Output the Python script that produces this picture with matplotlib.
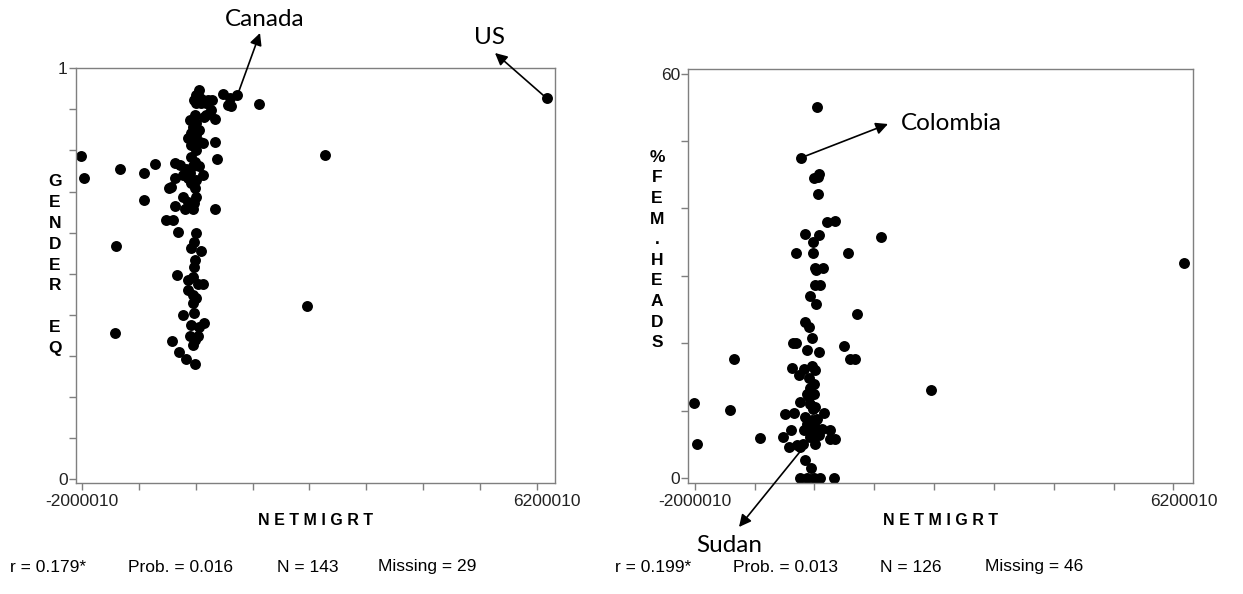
import matplotlib.pyplot as plt
import numpy as np
from matplotlib.transforms import ScaledTranslation

W, H = 1243, 594

# net migration (thousands) vs gender equality index
ge_netmig = [108, 48, 120, 12, 60, 181, 271, 349, 229, 151, 542, 662, 801, 692, 632, 1192,
             331, 241, 193, 391, 30, -60, 60, 0, 108, -30, 60, -90, 12, 120, 181, -30, 391,
             60, -30, 439, 30, -331, -241, -120, 0, 108, -60, -181, -90, 181, 60, -331, -391,
             -433, -30, 30, 60, -181, -90, 12, -151, 0, 403, -331, -494, -361, -271, 60, 12,
             -30, 151, 30, 12, -289, -90, 0, 90, 181, -90, 0, 60, 0, -181, 12, -30, 108, 193,
             -60, 30, 90, -373, 0, -253, -120, 30,
             -2017, -1969, -1324, -1397, -1403, -891, -885, -686, 2389, 2059, 6381]
ge_index = [0.947, 0.935, 0.927, 0.923, 0.915, 0.923, 0.923, 0.923, 0.915, 0.916, 0.937, 0.927,
            0.934, 0.907, 0.911, 0.913, 0.899, 0.886, 0.882, 0.877, 0.886, 0.874, 0.866, 0.858,
            0.850, 0.842, 0.838, 0.830, 0.826, 0.821, 0.817, 0.813, 0.820, 0.801, 0.785, 0.779,
            0.773, 0.770, 0.765, 0.756, 0.761, 0.761, 0.744, 0.740, 0.732, 0.740, 0.728, 0.732,
            0.712, 0.708, 0.720, 0.708, 0.687, 0.687, 0.675, 0.671, 0.657, 0.657, 0.657, 0.665,
            0.631, 0.631, 0.601, 0.598, 0.578, 0.562, 0.554, 0.533, 0.517, 0.497, 0.484, 0.493,
            0.476, 0.476, 0.460, 0.448, 0.440, 0.428, 0.399, 0.403, 0.375, 0.371, 0.379, 0.347,
            0.338, 0.347, 0.336, 0.326, 0.310, 0.291, 0.279,
            0.787, 0.734, 0.755, 0.568, 0.355, 0.744, 0.679, 0.767, 0.790, 0.421, 0.927]

# net migration (thousands) vs % female headed households
fh_netmig = [97, -171, 126, 40, 108, 108, 268, 411, -103, 126, 29, 1198, -257, 29, 622, 68,
             200, 86, 57, 154, -17, 86, 782, -114, -46, 11, -314, -257, -74, 126, 553, 668,
             753, -1330, -331, -217, -131, 11, 68, -46, 40, -29, 51, -74, -188, -17, 68, -445,
             -302, 211, -103, 11, -74, 68, 183, 325, 411, 325, -485, -359, -388, -245, -143, 68,
             -17, 126, -103, 0, -188, -74, 40, 154, 382, -2014, -1404, -1968, -884, 6388, 2052,
             -46, 29, -131, -29, 97, 40, -188]
fh_pct = [55.1, 47.55, 45.1, 44.5, 44.7, 42.2, 38.0, 38.2, 36.2, 36.06, 35.07, 35.8, 33.4, 33.4,
          33.4, 31.1, 31.1, 30.9, 28.7, 28.7, 27.0, 25.8, 24.4, 23.2, 22.4, 20.85, 20.1, 20.1,
          19.0, 18.7, 19.6, 17.7, 17.7, 17.6, 16.35, 15.26, 16.2, 16.6, 16.0, 14.8, 14.0, 13.3,
          12.5, 12.5, 11.3, 11.05, 10.55, 9.56, 9.66, 9.66, 9.07, 8.57, 8.08, 7.58, 7.33, 7.09,
          5.85, 5.85, 6.09, 7.09, 4.6, 4.86, 5.1, 5.1, 6.09, 6.34, 2.63, 1.55, 0, 0, 0, 0, 0,
          11.2, 10.15, 5.1, 5.95, 31.86, 13.0,
          12.0, 10.3, 7.09, 6.8, 8.8, 6.59, 4.6]

x_ticks = np.linspace(-2000010, 6200010, 9)
x_end_labels = ["-2000010", "6200010"]
stats_left = ["r = 0.179*", "Prob. = 0.016", "N = 143", "Missing = 29"]
stats_right = ["r = 0.199*", "Prob. = 0.013", "N = 126", "Missing = 46"]

plt.rcParams["font.family"] = ["Liberation Sans", "DejaVu Sans"]
grey = "#7f7f7f"

fig = plt.figure(figsize=(W / 100, H / 100), dpi=100)


def fx(px):
    return px / W


def fy(py):
    return 1 - py / H


def style(ax, yticks, ylabels):
    for s in ax.spines.values():
        s.set_color(grey)
        s.set_linewidth(1)
    ax.set_xticks(x_ticks)
    ax.set_xticklabels([x_end_labels[0]] + [""] * 7 + [x_end_labels[1]], fontsize=12.5)
    ax.set_yticks(yticks)
    ax.set_yticklabels(ylabels, fontsize=12.5)
    ax.tick_params(colors=grey, labelcolor="#222222", length=5, width=1)
    ax.tick_params(axis="y", pad=1)
    ax.tick_params(axis="x", pad=3)
    lab = ax.get_xticklabels()[-1]
    lab.set_transform(lab.get_transform() + ScaledTranslation(0.1, 0, fig.dpi_scale_trans))
    ax.set_xlim(-2110000, 6531000)


ax1 = fig.add_axes([fx(76), fy(482.7), fx(555) - fx(76), fy(68.3) - fy(482.7)])
ax1.scatter(np.array(ge_netmig) * 1000, ge_index, s=62, color="black", linewidths=0)
ax1.set_ylim(-0.009, 1.0)
style(ax1, np.linspace(0, 1, 11), ["0"] + [""] * 9 + ["1"])

ax2 = fig.add_axes([fx(688.3), fy(482.7), fx(1192.7) - fx(688.3), fy(69) - fy(482.7)])
ax2.scatter(np.array(fh_netmig) * 1000, fh_pct, s=62, color="black", linewidths=0)
ax2.set_ylim(-0.7, 60.7)
style(ax2, np.arange(0, 61, 10), ["0"] + [""] * 5 + ["60"])

for ax in (ax1, ax2):
    ax.set_xlabel("N E T M I G R T", fontsize=11.5, fontweight="bold", labelpad=3)

fig.text(fx(55), fy(265), "G\nE\nN\nD\nE\nR\n\nE\nQ", fontsize=12.5, fontweight="bold",
         ha="center", va="center", linespacing=1.48)
fig.text(fx(657), fy(250), "%\nF\nE\nM\n.\nH\nE\nA\nD\nS", fontsize=12.5, fontweight="bold",
         ha="center", va="center", linespacing=1.47)

for txt, px in zip(stats_left, [10, 128, 277, 378]):
    fig.text(fx(px), fy(567), txt, fontsize=12.5, ha="left", va="center")
for txt, px in zip(stats_right, [615, 733, 880, 985]):
    fig.text(fx(px), fy(567), txt, fontsize=12.5, ha="left", va="center")

# country call-outs
arrow = dict(arrowstyle="-|>", color="black", lw=1.2, mutation_scale=18, shrinkA=0, shrinkB=0)
callouts = [
    (ax1, 801e3, 0.934, 260, 33, "Canada", 265, 19),
    (ax1, 6381e3, 0.927, 495, 53, "US", 489, 38),
    (ax2, -171e3, 47.55, 888, 124, "Colombia", 951, 124),
    (ax2, 0, 6.0, 739, 527, "Sudan", 729, 545),
]
for ax, dx, dy, hx, hy, name, tx, ty in callouts:
    ax.annotate("", xy=(fx(hx), fy(hy)), xycoords="figure fraction",
                xytext=(dx, dy), textcoords="data", arrowprops=arrow, annotation_clip=False)
    fig.text(fx(tx), fy(ty), name, fontsize=17.5, family=["Lato", "DejaVu Sans"],
             ha="center", va="center")

fig.savefig("out.png", dpi=100)
